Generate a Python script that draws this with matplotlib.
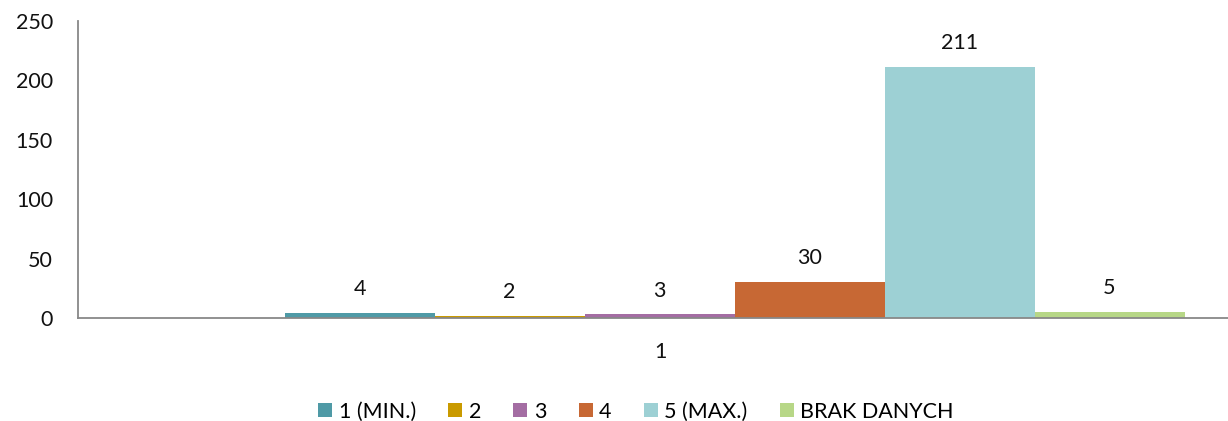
import matplotlib
matplotlib.use("Agg")
import matplotlib.pyplot as plt
import numpy as np

plt.rcParams['font.family'] = ['Lato', 'DejaVu Sans']

# data
categories = ["1"]
series_labels = ["1 (MIN.)", "2", "3", "4", "5 (MAX.)", "BRAK DANYCH"]
values = [4, 2, 3, 30, 211, 5]
colors = ["#4F9AA6", "#C99A00", "#A46DA3", "#C76834", "#9DD0D4", "#B7D787"]

fig = plt.figure(figsize=(12.28, 4.21), dpi=100)
ax = fig.add_axes([78 / 1228, 103 / 421, 1 - 78 / 1228, (318 - 21) / 421])

n = len(values)
w = 1.0
offsets = (np.arange(n) - (n - 1) / 2) * w
for off, v, c, lab in zip(offsets, values, colors, series_labels):
    bars = ax.bar(0 + off, v, width=w, color=c, label=lab)
    ax.bar_label(bars, labels=[str(v)], padding=10, fontsize=15.5, color="#111111")

ax.set_xlim(-4.377, 3.29)
ax.set_ylim(0, 250)
ax.set_yticks(range(0, 251, 50))
lo, hi = ax.get_xlim()
ax.set_xticks([(lo + hi) / 2 + 0.05])
ax.set_xticklabels(categories)
ax.tick_params(axis="both", length=0, labelsize=15.5, colors="#111111")
ax.tick_params(axis="x", pad=17)
ax.tick_params(axis="y", pad=18)

for s in ["top", "right"]:
    ax.spines[s].set_visible(False)
for s in ["left", "bottom"]:
    ax.spines[s].set_color("#888888")
    ax.spines[s].set_linewidth(1.3)

fig.legend(loc="lower center", bbox_to_anchor=(0.518, -0.048), ncol=6, frameon=False,
           fontsize=15.5, handlelength=0.65, handleheight=0.65, handletextpad=0.3,
           columnspacing=1.5)

fig.savefig("out.png", dpi=100)
